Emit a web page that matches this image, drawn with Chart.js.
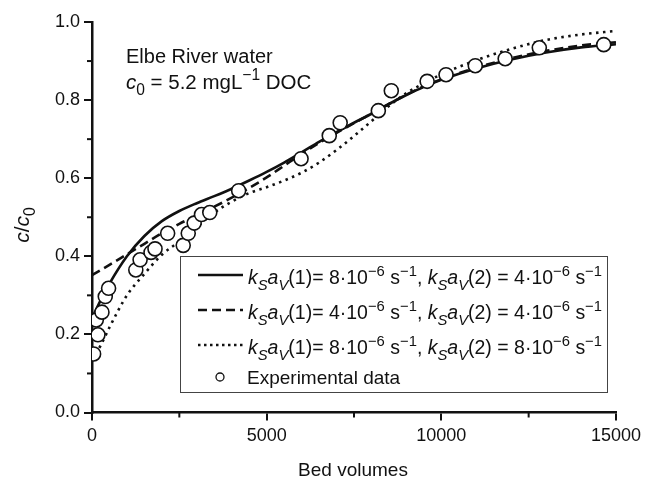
<!DOCTYPE html>
<html>
<head>
<meta charset="utf-8">
<script src="https://cdn.jsdelivr.net/npm/chart.js@4/dist/chart.umd.min.js"></script>
<style>
  html, body { margin: 0; padding: 0; background: #fff; }
  canvas { display: block; }
</style>
</head>
<body>
<canvas id="mycanvas" width="646" height="479"></canvas>
<script>
// experimental data (bed volumes, c/c0)
var expBV = [46, 123, 170, 285, 380, 475, 1254, 1377, 1690, 1804, 2166, 2611, 2755, 2925, 3135, 3372,
             4198, 5985, 6792, 7105, 8197, 8568, 9594, 10135, 10972, 11828, 12805, 14650];
var expC = [0.150, 0.237, 0.199, 0.257, 0.297, 0.318, 0.365, 0.391, 0.410, 0.419, 0.459, 0.428, 0.459, 0.485, 0.507, 0.512,
            0.568, 0.650, 0.709, 0.742, 0.773, 0.824, 0.848, 0.865, 0.888, 0.906, 0.934, 0.942];

// model curves, read at these bed volumes
var curveBV = [0, 250, 500, 1000, 1500, 2000, 2500, 3000, 3500, 4000, 4500, 5000, 5500, 6000, 6500,
               7000, 7500, 8000, 8500, 9000, 9500, 10000, 11000, 12000, 13000, 14000, 15000];
// ksav(1) = 8e-6, ksav(2) = 4e-6
var curve8_4 = [0.242, 0.288, 0.330, 0.400, 0.452, 0.490, 0.516, 0.536, 0.554, 0.573, 0.594, 0.616, 0.640, 0.666, 0.693,
                0.718, 0.742, 0.765, 0.790, 0.813, 0.834, 0.852, 0.881, 0.904, 0.922, 0.935, 0.943];
// ksav(1) = 4e-6, ksav(2) = 4e-6
var curve4_4 = [0.352, 0.365, 0.378, 0.405, 0.432, 0.459, 0.483, 0.505, 0.527, 0.550, 0.575, 0.602, 0.632, 0.662, 0.690,
                0.716, 0.741, 0.765, 0.790, 0.814, 0.835, 0.853, 0.883, 0.907, 0.926, 0.940, 0.948];
// ksav(1) = 8e-6, ksav(2) = 8e-6
var curve8_8 = [0.135, 0.172, 0.218, 0.300, 0.355, 0.404, 0.438, 0.475, 0.512, 0.540, 0.562, 0.577, 0.594, 0.614, 0.640,
                0.672, 0.708, 0.746, 0.785, 0.818, 0.843, 0.866, 0.902, 0.931, 0.954, 0.968, 0.977];

var xTicks = [0, 5000, 10000, 15000];
var yTicks = [0.0, 0.2, 0.4, 0.6, 0.8, 1.0];

function pts(xs, ys) {
  var out = [];
  for (var i in xs) out.push({x: xs[i], y: ys[i]});
  return out;
}

var FONT = "'Liberation Sans', Arial, sans-serif";
var INK = '#111';

// draws text pieces: '' normal, 'i' italic, 'is' italic sub, 's' sub, 'p' sup
function drawRich(ctx, x, y, parts, size) {
  ctx.textBaseline = 'alphabetic';
  ctx.textAlign = 'left';
  for (var i = 0; i < parts.length; i++) {
    var t = parts[i][0], st = parts[i][1] || '';
    var sz = size, dy = 0;
    if (st.indexOf('s') >= 0) { sz = size * 0.76; dy = size * 0.3; }
    if (st.indexOf('p') >= 0) { sz = size * 0.76; dy = -size * 0.42; }
    ctx.font = (st.indexOf('i') >= 0 ? 'italic ' : '') + sz + 'px ' + FONT;
    ctx.fillText(t, x, y + dy);
    x += ctx.measureText(t).width;
  }
  return x;
}

function richWidth(ctx, parts, size) {
  var w = 0;
  parts.forEach(function(p) {
    var st = p[1] || '';
    var sz = (st.indexOf('s') >= 0 || st.indexOf('p') >= 0) ? size * 0.76 : size;
    ctx.font = (st.indexOf('i') >= 0 ? 'italic ' : '') + sz + 'px ' + FONT;
    w += ctx.measureText(p[0]).width;
  });
  return w;
}

function ksav(n, eq, val) {
  return [['k', 'i'], ['S', 'is'], ['a', 'i'], ['V', 'is'], ['(' + n + ')' + eq + val + '\u00b710'], ['\u22126', 'p'], [' s'], ['\u22121', 'p']];
}

var extras = {
  id: 'extras',
  afterDraw: function(chart) {
    var ctx = chart.ctx, xs = chart.scales.x, ys = chart.scales.y, a = chart.chartArea;
    ctx.save();
    ctx.fillStyle = INK;
    ctx.strokeStyle = INK;

    // minor ticks
    ctx.lineWidth = 2;
    [0.1, 0.3, 0.5, 0.7, 0.9].forEach(function(v) {
      var py = ys.getPixelForValue(v);
      ctx.beginPath(); ctx.moveTo(a.left - 5, py); ctx.lineTo(a.left, py); ctx.stroke();
    });
    [2500, 7500, 12500].forEach(function(v) {
      var px = xs.getPixelForValue(v);
      ctx.beginPath(); ctx.moveTo(px, a.bottom); ctx.lineTo(px, a.bottom + 5); ctx.stroke();
    });

    // axis titles
    ctx.font = '19px ' + FONT;
    ctx.textAlign = 'center';
    ctx.textBaseline = 'alphabetic';
    ctx.fillText('Bed volumes', 353, 476);

    ctx.save();
    ctx.translate(29, 225);
    ctx.rotate(-Math.PI / 2);
    var yParts = [['c', 'i'], ['/'], ['c', 'i'], ['0', 's']];
    var w = richWidth(ctx, yParts, 21);
    drawRich(ctx, -w / 2, 0, yParts, 21);
    ctx.restore();

    // annotation
    drawRich(ctx, 126, 63, [['Elbe River water']], 20);
    drawRich(ctx, 126, 89, [['c', 'i'], ['0', 's'], [' = 5.2 mgL'], ['\u22121', 'p'], [' DOC']], 20.5);

    // legend box
    var bx = 180, by = 256, bw = 427, bh = 136;
    ctx.fillStyle = '#fff';
    ctx.fillRect(bx, by, bw, bh);
    ctx.lineWidth = 1;
    ctx.strokeStyle = '#444';
    ctx.strokeRect(bx + 0.5, by + 0.5, bw, bh);

    var rows = [
      {dash: [], y: 284, parts: ksav(1, '= ', 8).concat([[', ']]).concat(ksav(2, ' = ', 4))},
      {dash: [9, 5], y: 319, parts: ksav(1, '= ', 4).concat([[', ']]).concat(ksav(2, ' = ', 4))},
      {dash: [2.5, 3.5], y: 354, parts: ksav(1, '= ', 8).concat([[', ']]).concat(ksav(2, ' = ', 8))}
    ];
    ctx.strokeStyle = INK;
    ctx.fillStyle = INK;
    rows.forEach(function(r) {
      ctx.setLineDash(r.dash);
      ctx.lineWidth = 2.5;
      ctx.beginPath(); ctx.moveTo(198, r.y - 9); ctx.lineTo(243, r.y - 9); ctx.stroke();
      ctx.setLineDash([]);
      var rw = richWidth(ctx, r.parts, 19.5);
      ctx.save();
      ctx.translate(248, 0);
      ctx.scale(354 / rw, 1);
      drawRich(ctx, 0, r.y, r.parts, 19.5);
      ctx.restore();
    });
    ctx.lineWidth = 1.3;
    ctx.beginPath(); ctx.arc(220, 377, 4, 0, Math.PI * 2); ctx.stroke();
    drawRich(ctx, 247, 384, [['Experimental data']], 19);

    ctx.restore();
  }
};

var ctx = document.getElementById('mycanvas');

var chart = new Chart(ctx, {
  type: 'line',
  data: {
    datasets: [
      {
        label: 'Experimental data',
        data: pts(expBV, expC),
        showLine: false,
        pointRadius: 7,
        pointBackgroundColor: '#fff',
        pointBorderColor: INK,
        pointBorderWidth: 1.6
      }, {
        label: '8-4',
        data: pts(curveBV, curve8_4),
        borderColor: INK,
        borderWidth: 2.6,
        pointRadius: 0,
        cubicInterpolationMode: 'monotone',
        fill: false
      }, {
        label: '4-4',
        data: pts(curveBV, curve4_4),
        borderColor: INK,
        borderWidth: 2.6,
        borderDash: [9, 5],
        pointRadius: 0,
        cubicInterpolationMode: 'monotone',
        fill: false
      }, {
        label: '8-8',
        data: pts(curveBV, curve8_8),
        borderColor: INK,
        borderWidth: 2.6,
        borderDash: [2.5, 4.5],
        pointRadius: 0,
        cubicInterpolationMode: 'monotone',
        fill: false
      }
    ]
  },
  options: {
    responsive: false,
    animation: false,
    layout: { padding: { top: 22, right: 28, left: 0, bottom: 0 } },
    plugins: { legend: { display: false }, tooltip: { enabled: false } },
    scales: {
      x: {
        type: 'linear', min: 0, max: 15000,
        afterBuildTicks: function(s) { s.ticks = xTicks.map(function(v) { return {value: v}; }); },
        ticks: { font: { family: FONT, size: 18 }, color: INK, padding: 5, maxRotation: 0,
                 callback: function(v) { return String(v); } },
        grid: { drawOnChartArea: false, tickLength: 8, color: INK, lineWidth: 2 },
        border: { color: INK, width: 2.5 },
        afterFit: function(s) { s.height = 66.5; }
      },
      y: {
        type: 'linear', min: 0, max: 1,
        afterBuildTicks: function(s) { s.ticks = yTicks.map(function(v) { return {value: v}; }); },
        ticks: { font: { family: FONT, size: 18 }, color: INK, padding: 4,
                 callback: function(v) { return v.toFixed(1); } },
        grid: { drawOnChartArea: false, tickLength: 8, color: INK, lineWidth: 2 },
        border: { color: INK, width: 2.5 },
        afterFit: function(s) { s.width = 92; }
      }
    }
  },
  plugins: [extras]
});
</script>
</body>
</html>
